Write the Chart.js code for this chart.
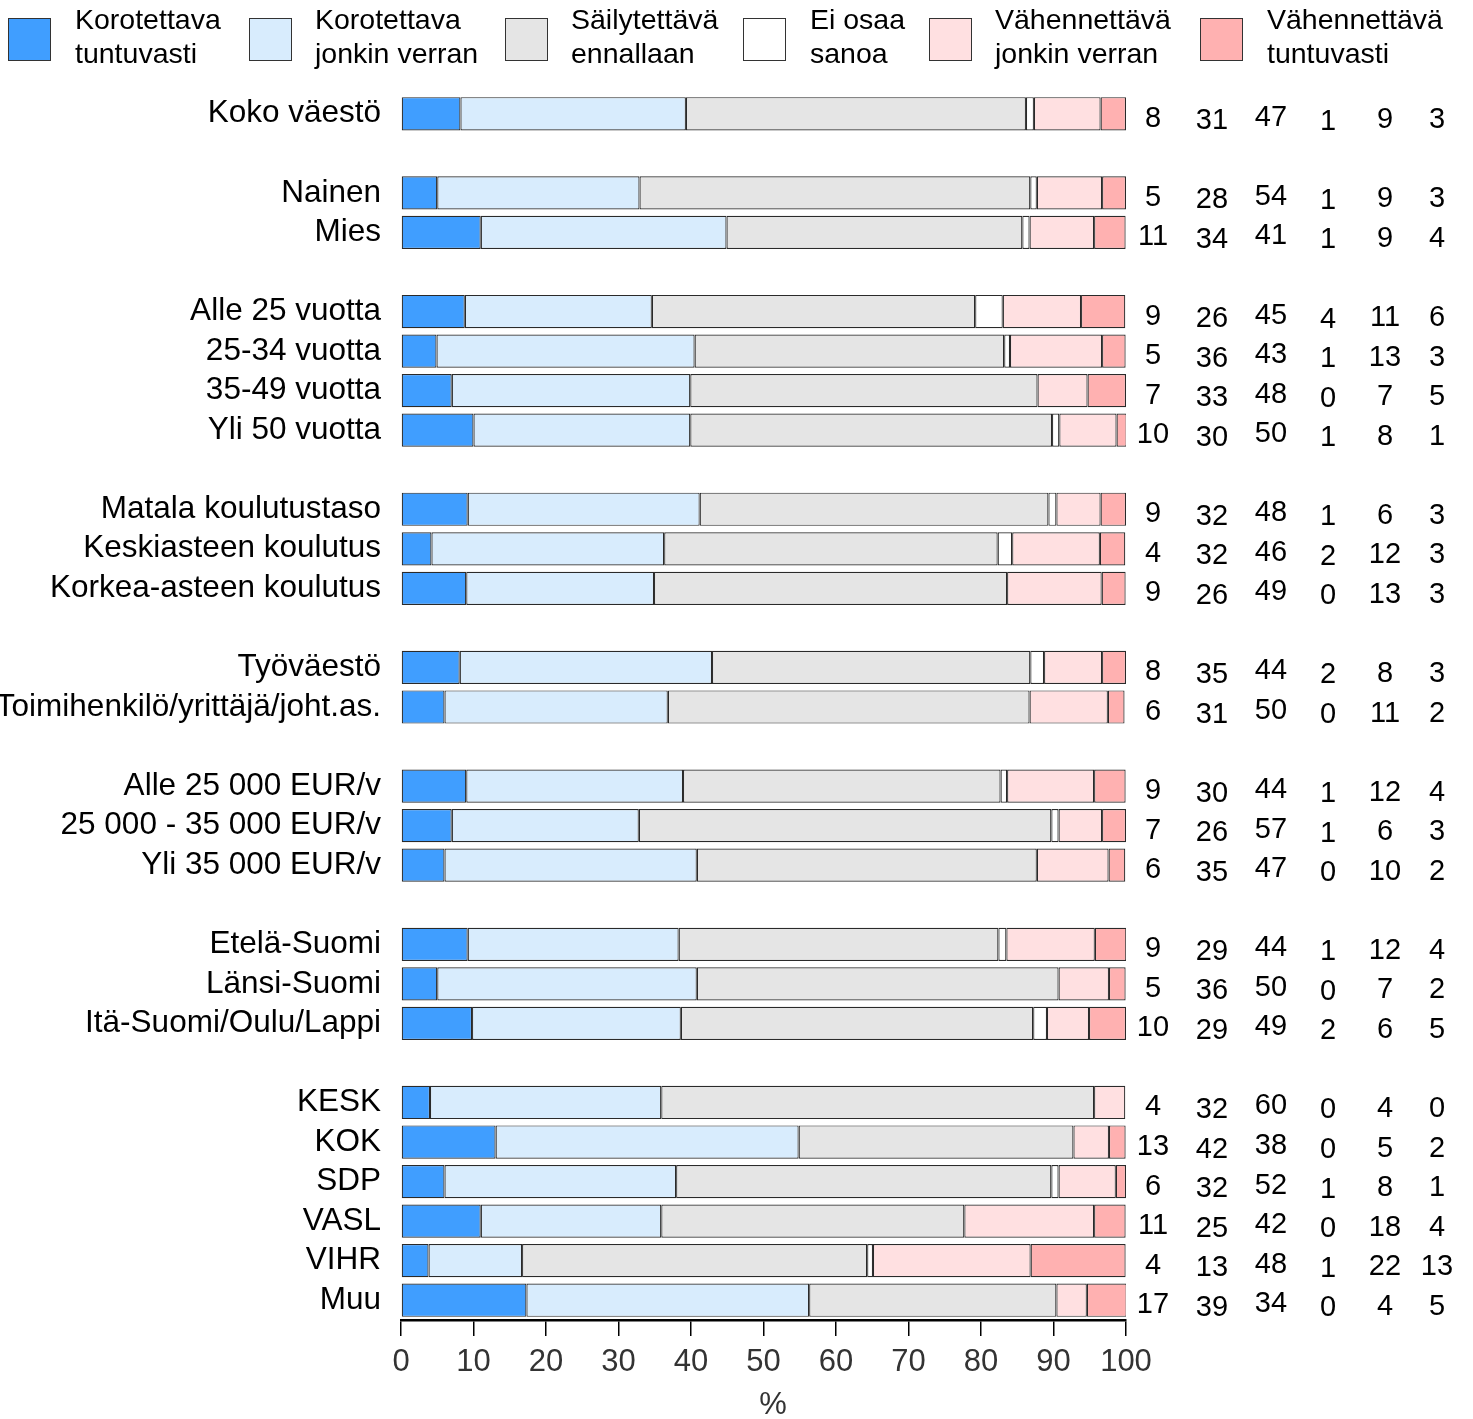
<!DOCTYPE html>
<html>
<head>
<meta charset="utf-8">
<script src="https://cdn.jsdelivr.net/npm/chart.js@4.4.1/dist/chart.umd.min.js"></script>
<style>
  body { margin: 0; background: #fff; }
  #wrap { width: 1473px; height: 1419px; }
</style>
</head>
<body>
<div id="wrap"><canvas id="chart" width="1473" height="1419"></canvas></div>
<script>
// rows top to bottom, '' = gap between groups
const categories = [
  "Koko väestö", "",
  "Nainen", "Mies", "",
  "Alle 25 vuotta", "25-34 vuotta", "35-49 vuotta", "Yli 50 vuotta", "",
  "Matala koulutustaso", "Keskiasteen koulutus", "Korkea-asteen koulutus", "",
  "Työväestö", "Toimihenkilö/yrittäjä/joht.as.", "",
  "Alle 25 000 EUR/v", "25 000 - 35 000 EUR/v", "Yli 35 000 EUR/v", "",
  "Etelä-Suomi", "Länsi-Suomi", "Itä-Suomi/Oulu/Lappi", "",
  "KESK", "KOK", "SDP", "VASL", "VIHR", "Muu"
];

const seriesNames = [
  ["Korotettava", "tuntuvasti"],
  ["Korotettava", "jonkin verran"],
  ["Säilytettävä", "ennallaan"],
  ["Ei osaa", "sanoa"],
  ["Vähennettävä", "jonkin verran"],
  ["Vähennettävä", "tuntuvasti"]
];

// bar lengths (%)
const korotTuntuvasti = [8.2, null, 5.0, 11.0, null, 8.8, 4.9, 7.0, 10.0, null, 9.2, 4.2, 9.0, null, 8.1, 6.0, null, 9.0, 7.0, 6.0, null, 9.2, 5.0, 9.8, null, 4.0, 13.05, 6.0, 11.0, 3.8, 17.3];
const korotJonkin     = [31.1, null, 27.9, 33.9, null, 25.8, 35.6, 32.9, 29.9, null, 32.0, 32.1, 25.9, null, 34.8, 30.8, null, 29.9, 25.8, 34.8, null, 29.1, 35.8, 28.8, null, 31.9, 41.8, 31.95, 24.9, 12.9, 39.0];
const sailytettava    = [46.9, null, 53.9, 40.8, null, 44.6, 42.7, 47.9, 49.9, null, 48.1, 46.0, 48.7, null, 43.9, 49.9, null, 43.8, 56.9, 46.9, null, 44.1, 49.9, 48.6, null, 59.7, 37.9, 51.75, 41.8, 47.6, 34.1];
const eiOsaa          = [1.1, null, 0.9, 1.0, null, 3.8, 0.8, 0, 1.0, null, 1.1, 2.0, 0, null, 1.9, 0, null, 0.9, 1.0, 0, null, 1.1, 0, 1.9, null, 0, 0, 1.0, 0, 0.8, 0];
const vahenJonkin     = [9.2, null, 9.0, 8.9, null, 10.8, 12.7, 6.9, 7.9, null, 6.1, 12.1, 13.05, null, 8.0, 10.8, null, 12.0, 6.0, 9.9, null, 12.2, 6.95, 5.8, null, 4.3, 4.9, 7.9, 17.9, 21.75, 4.2];
const vahenTuntuvasti = [3.5, null, 3.3, 4.35, null, 6.1, 3.25, 5.3, 1.4, null, 3.5, 3.5, 3.3, null, 3.3, 2.3, null, 4.35, 3.3, 2.3, null, 4.35, 2.3, 5.1, null, 0, 2.3, 1.4, 4.35, 13.1, 5.5];

// printed numbers on the right
const lblKorotTuntuvasti = [8, null, 5, 11, null, 9, 5, 7, 10, null, 9, 4, 9, null, 8, 6, null, 9, 7, 6, null, 9, 5, 10, null, 4, 13, 6, 11, 4, 17];
const lblKorotJonkin     = [31, null, 28, 34, null, 26, 36, 33, 30, null, 32, 32, 26, null, 35, 31, null, 30, 26, 35, null, 29, 36, 29, null, 32, 42, 32, 25, 13, 39];
const lblSailytettava    = [47, null, 54, 41, null, 45, 43, 48, 50, null, 48, 46, 49, null, 44, 50, null, 44, 57, 47, null, 44, 50, 49, null, 60, 38, 52, 42, 48, 34];
const lblEiOsaa          = [1, null, 1, 1, null, 4, 1, 0, 1, null, 1, 2, 0, null, 2, 0, null, 1, 1, 0, null, 1, 0, 2, null, 0, 0, 1, 0, 1, 0];
const lblVahenJonkin     = [9, null, 9, 9, null, 11, 13, 7, 8, null, 6, 12, 13, null, 8, 11, null, 12, 6, 10, null, 12, 7, 6, null, 4, 5, 8, 18, 22, 4];
const lblVahenTuntuvasti = [3, null, 3, 4, null, 6, 3, 5, 1, null, 3, 3, 3, null, 3, 2, null, 4, 3, 2, null, 4, 2, 5, null, 0, 2, 1, 4, 13, 5];

const xTicks = [0, 10, 20, 30, 40, 50, 60, 70, 80, 90, 100];
const xTitle = "%";

const colors = ["#409eff", "#d8ecfd", "#e5e5e5", "#ffffff", "#ffe0e1", "#ffb1b1"];
const FONT = "'Liberation Sans', Arial, sans-serif";

const values = [korotTuntuvasti, korotJonkin, sailytettava, eiOsaa, vahenJonkin, vahenTuntuvasti];
const labels = [lblKorotTuntuvasti, lblKorotJonkin, lblSailytettava, lblEiOsaa, lblVahenJonkin, lblVahenTuntuvasti];

// legend, number columns, axis title
const extras = {
  id: "extras",
  afterDraw(chart) {
    const c = chart.ctx;
    const y = chart.scales.y;
    c.save();

    // legend
    const boxX = [8, 249, 505, 743, 929, 1200];
    const textX = [75, 315, 571, 810, 995, 1267];
    c.font = "28.5px " + FONT;
    c.textAlign = "left";
    c.textBaseline = "alphabetic";
    seriesNames.forEach((n, i) => {
      c.fillStyle = colors[i];
      c.fillRect(boxX[i], 18, 42, 42);
      c.strokeStyle = "#333";
      c.lineWidth = 1;
      c.strokeRect(boxX[i] + 0.5, 18.5, 42, 42);
      c.fillStyle = "#000";
      c.fillText(n[0], textX[i], 29);
      c.fillText(n[1], textX[i], 63);
    });

    // numbers to the right of the bars
    const colX = [1153, 1212, 1271, 1328, 1385, 1437];
    const colDy = [5, 7.5, 4, 8, 6.5, 6.5];
    c.font = "29px " + FONT;
    c.textAlign = "center";
    c.textBaseline = "middle";
    c.fillStyle = "#000";
    labels.forEach((arr, s) => {
      arr.forEach((v, i) => {
        if (v === null) return;
        c.fillText(String(v), colX[s], y.getPixelForValue(i) + colDy[s]);
      });
    });

    // x axis title
    c.font = "31px " + FONT;
    c.fillStyle = "#333";
    c.fillText(xTitle, 773, 1405);
    c.restore();
  }
};

new Chart(document.getElementById("chart"), {
  type: "bar",
  data: {
    labels: categories,
    datasets: values.map((d, i) => ({
      label: seriesNames[i].join(" "),
      data: d,
      backgroundColor: colors[i],
      borderColor: "#2a2a2a",
      borderWidth: 1.2,
      borderSkipped: false,
      barPercentage: 0.84,
      categoryPercentage: 1
    }))
  },
  options: {
    indexAxis: "y",
    responsive: false,
    animation: false,
    layout: { padding: { top: 94, right: 347, left: 0, bottom: 0 } },
    plugins: { legend: { display: false }, tooltip: { enabled: false } },
    scales: {
      x: {
        stacked: true,
        min: 0,
        max: 100,
        afterBuildTicks: s => { s.ticks = xTicks.map(v => ({ value: v })); },
        ticks: { color: "#333", font: { family: FONT, size: 31 }, padding: 8, maxRotation: 0, autoSkip: false },
        grid: { display: true, drawOnChartArea: false, drawTicks: true, tickLength: 16, color: "#000", lineWidth: 1.5 },
        border: { display: true, color: "#000", width: 2.5 },
        afterFit: s => { s.height = 99; }
      },
      y: {
        stacked: true,
        grid: { display: false, drawTicks: false },
        border: { display: false },
        ticks: { color: "#000", font: { family: FONT, size: 31.5 }, padding: 20, autoSkip: false },
        afterFit: s => { s.width = 401; }
      }
    }
  },
  plugins: [extras]
});
</script>
</body>
</html>
